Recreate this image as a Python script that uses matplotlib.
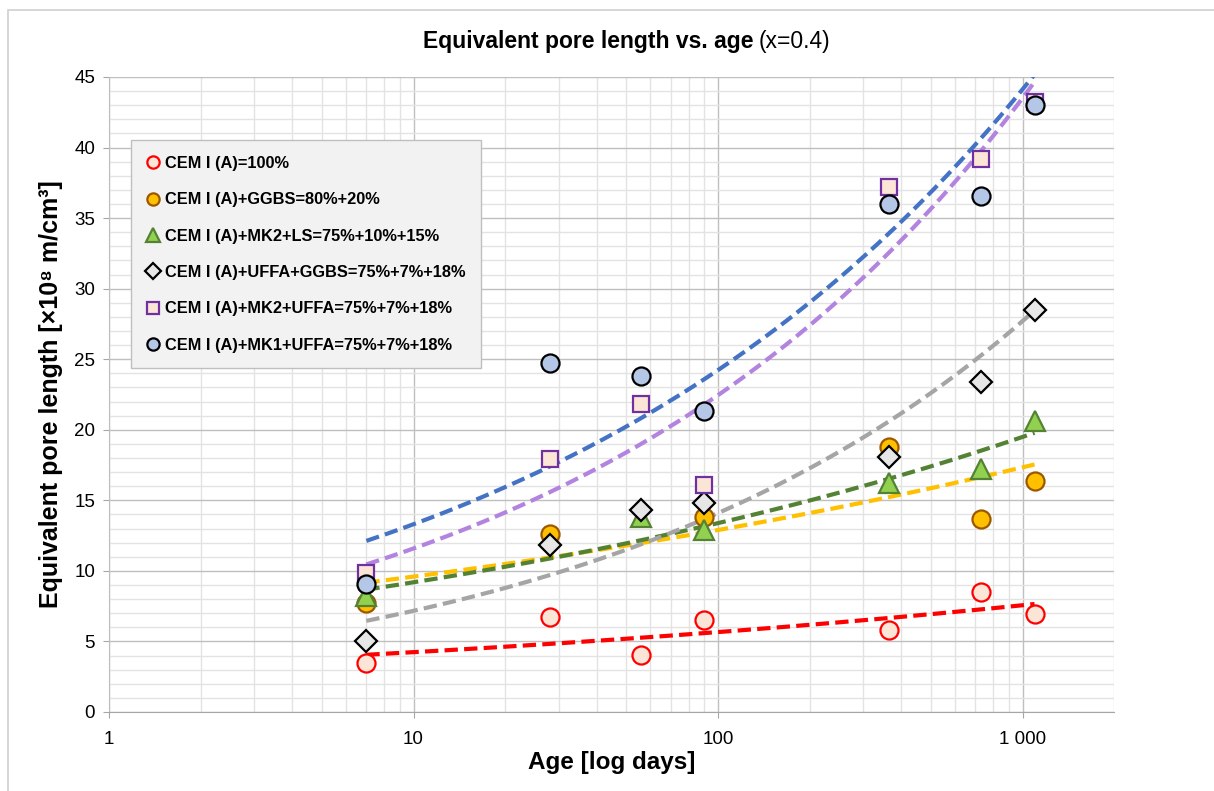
import numpy as np
import matplotlib
matplotlib.use("Agg")
import matplotlib.pyplot as plt
from matplotlib.patches import Rectangle
from matplotlib.ticker import FixedLocator, LogLocator, NullFormatter, MultipleLocator

plt.rcParams['font.family'] = ['Liberation Sans', 'DejaVu Sans']

# ages in days
age = [7, 28, 56, 90, 365, 730, 1095]

# nan = no measurement shown at that age
cem100 = [3.5, 6.75, 4.05, 6.5, 5.8, 8.5, 6.95]
ggbs = [7.7, 12.6, np.nan, 13.85, 18.8, 13.7, 16.4]
mk2_ls = [8.2, np.nan, 13.85, 12.9, 16.2, 17.2, 20.6]
uffa_ggbs = [5.0, 11.8, 14.3, 14.8, 18.1, 23.4, 28.5]
mk2_uffa = [9.85, 17.9, 21.8, 16.1, 37.2, 39.2, 43.2]
mk1_uffa = [9.1, 24.7, 23.8, 21.3, 36.0, 36.6, 43.0]

labels = ["CEM I (A)=100%",
          "CEM I (A)+GGBS=80%+20%",
          "CEM I (A)+MK2+LS=75%+10%+15%",
          "CEM I (A)+UFFA+GGBS=75%+7%+18%",
          "CEM I (A)+MK2+UFFA=75%+7%+18%",
          "CEM I (A)+MK1+UFFA=75%+7%+18%"]

series = [cem100, ggbs, mk2_ls, uffa_ggbs, mk2_uffa, mk1_uffa]
markers = ['o', 'o', '^', 'D', 's', 'o']
faces = ['#FBE5D6', '#FFC000', '#92D050', '#E7E6E6', '#FBE5D6', '#B4C7E7']
edges = ['#FF0000', '#9C5700', '#548235', '#000000', '#7030A0', '#000000']
sizes = [13, 13, 14, 11.5, 12, 13]
trend_colors = ['#FF0000', '#FFC000', '#548235', '#A5A5A5', '#B383E0', '#4472C4']

fig = plt.figure(figsize=(12.14, 7.91), dpi=100)
ax = fig.add_axes([0.0898, 0.0999, 0.828, 0.8028])

# outer chart frame
fig.patches.append(Rectangle((8 / 1214, -0.05), 1.2, 1 - 10 / 791 + 0.05,
                             transform=fig.transFigure, fill=False,
                             edgecolor='#D0D0D0', linewidth=1.2))

xs = np.linspace(np.log(age[0]), np.log(age[-1]), 200)
handles = []
for i, ys in enumerate(series):
    # power trend line (least squares in log-log, as Excel does)
    x = np.array(age, dtype=float)
    y = np.array(ys, dtype=float)
    ok = ~np.isnan(y)
    b, a = np.polyfit(np.log(x[ok]), np.log(y[ok]), 1)
    ax.plot(np.exp(xs), np.exp(a + b * xs), '--', color=trend_colors[i],
            lw=3.0, dashes=(3.2, 1.5), zorder=3)
for i, ys in enumerate(series):
    h, = ax.plot(age, ys, linestyle='none', marker=markers[i], ms=sizes[i],
                 mfc=faces[i], mec=edges[i], mew=1.6, zorder=4 + i,
                 label=labels[i])
    handles.append(h)

ax.set_xscale('log')
ax.set_xlim(1, 2000)
ax.set_ylim(0, 45)
ax.xaxis.set_major_locator(FixedLocator([1, 10, 100, 1000]))
ax.set_xticklabels(['1', '10', '100', '1 000'])
ax.xaxis.set_minor_locator(LogLocator(base=10, subs=np.arange(2, 10)))
ax.xaxis.set_minor_formatter(NullFormatter())
ax.yaxis.set_major_locator(MultipleLocator(5))
ax.yaxis.set_minor_locator(MultipleLocator(1))

ax.grid(which='major', color='#BFBFBF', lw=1.0)
ax.grid(which='minor', color='#E3E3E3', lw=1.0)
ax.set_axisbelow(True)
for s in ['top', 'right']:
    ax.spines[s].set_visible(False)
ax.spines['left'].set_color('#BFBFBF')
ax.spines['bottom'].set_color('#A6A6A6')
ax.tick_params(axis='both', which='major', labelsize=13.5, length=4,
               color='#A6A6A6', pad=6)
ax.tick_params(axis='x', which='major', pad=10)
ax.tick_params(which='minor', length=0)

ax.set_xlabel('Age [log days]', fontsize=17.5, fontweight='bold', labelpad=2)
ax.set_ylabel('Equivalent pore length [×10⁸ m/cm³]', fontsize=18,
              fontweight='bold', labelpad=8)

fig.text(0.621, 0.947, 'Equivalent pore length vs. age', ha='right',
         va='center', fontsize=16.5, fontweight='bold')
fig.text(0.625, 0.947, '(x=0.4)', ha='left', va='center', fontsize=16.5)

leg = ax.legend(handles=handles, loc='upper left',
                bbox_to_anchor=(0.0217, 0.9), frameon=True, fancybox=False,
                prop={'size': 11.8, 'weight': 'bold'}, markerscale=0.68,
                handlelength=0.8, handletextpad=0.35, labelspacing=1.3,
                borderpad=0.95, borderaxespad=0)
leg.get_frame().set_facecolor('#F2F2F2')
leg.get_frame().set_edgecolor('#BFBFBF')
leg.get_frame().set_alpha(1)
leg.set_zorder(20)

fig.savefig('out.png', dpi=100)
